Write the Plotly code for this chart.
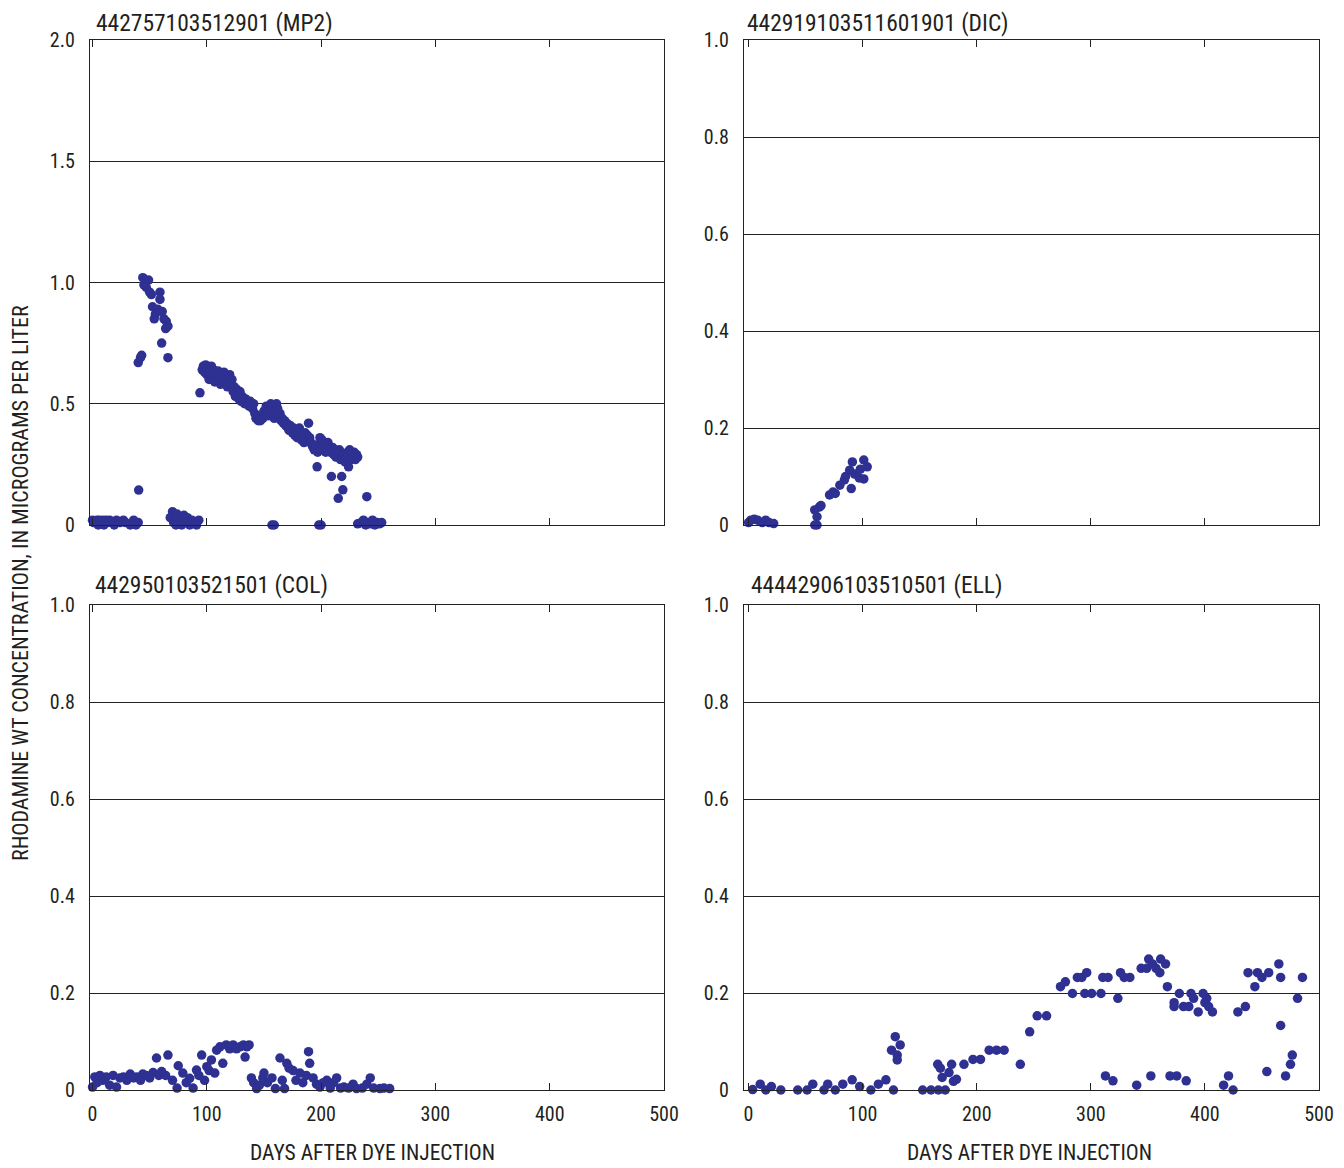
import plotly.graph_objects as go

# ---------------- DATA ----------------
titles = ["442757103512901 (MP2)", "442919103511601901 (DIC)",
          "442950103521501 (COL)", "44442906103510501 (ELL)"]

mp2_days = [0, 1, 3, 4, 5, 6, 8, 9, 10, 12, 13, 15, 17, 19, 21, 24, 27, 29, 33, 36, 38, 40,
            40.4, 40, 42, 43,
            44, 49, 45, 47, 50, 59, 51.5, 59, 52.5, 57, 61, 55, 54, 62.5, 64.5, 66, 64, 60.5, 66,
            68, 70, 71, 73, 74, 76, 78, 80, 81, 83, 85, 87, 89, 91, 93,
            94, 96, 97, 98, 99, 100, 101, 102, 103, 104, 105, 106, 107, 108, 109, 110, 111, 112,
            113, 114, 115, 116, 117, 118, 119, 120, 121, 122, 123, 124, 125, 126, 127, 128, 129,
            130, 131, 133, 134, 136, 137, 138, 140, 141, 142, 143, 144, 145, 146, 147, 148, 149,
            150, 151, 152, 153, 154, 155, 156, 157, 158, 159, 160, 161, 162, 163, 164, 165, 166,
            167, 168, 169, 170, 171, 172, 173, 175, 176, 177, 178, 179, 180, 181, 182, 183, 184,
            185, 186, 187, 188, 189, 190, 191, 192, 193, 194, 195, 196.5, 197, 198, 199, 200, 201,
            202, 203, 204, 205, 206, 207, 208, 209, 210, 211, 212, 213, 214, 215, 216, 217, 218,
            219, 220, 221, 222, 223, 224, 225, 226, 227, 228, 229, 230, 231, 232,
            157, 159, 198, 200,
            232, 235, 237, 239, 240, 241, 243, 245, 247, 249, 251, 253]
mp2_vals = [0.02, 0.01, 0.01, 0.02, 0.0, 0.02, 0.01, 0.02, 0.0, 0.02, 0.01, 0.02, 0.01, 0.0, 0.02, 0.01, 0.02, 0.01, 0.0, 0.02, 0.0, 0.01,
            0.144, 0.67, 0.69, 0.70,
            1.02, 1.01, 0.99, 0.98, 0.96, 0.96, 0.95, 0.93, 0.90, 0.89, 0.88, 0.87, 0.85, 0.85, 0.84, 0.82, 0.81, 0.75, 0.69,
            0.03, 0.055, 0.01, 0.0, 0.045, 0.02, 0.0, 0.04, 0.01, 0.03, 0.0, 0.02, 0.01, 0.0, 0.02,
            0.545, 0.64, 0.655, 0.63, 0.66, 0.62, 0.645, 0.60, 0.63, 0.655, 0.61, 0.64, 0.59, 0.62, 0.60, 0.635, 0.61, 0.58,
            0.625, 0.60, 0.63, 0.59, 0.615, 0.57, 0.60, 0.62, 0.58, 0.60, 0.55, 0.57, 0.53, 0.56, 0.54, 0.52, 0.55,
            0.51, 0.53, 0.50, 0.52, 0.50, 0.49, 0.51, 0.48, 0.50, 0.46, 0.44, 0.45, 0.43, 0.44, 0.43, 0.45, 0.44,
            0.47, 0.46, 0.49, 0.47, 0.45, 0.48, 0.50, 0.46, 0.49, 0.44, 0.47, 0.50, 0.48, 0.45, 0.46, 0.43, 0.44,
            0.42, 0.43, 0.41, 0.42, 0.40, 0.39, 0.41, 0.38, 0.40, 0.37, 0.39, 0.36, 0.38, 0.40, 0.37, 0.35, 0.36,
            0.34, 0.38, 0.35, 0.37, 0.42, 0.36, 0.34, 0.33, 0.32, 0.31, 0.33, 0.24, 0.30, 0.32, 0.36, 0.34, 0.35,
            0.31, 0.33, 0.30, 0.32, 0.34, 0.31, 0.30, 0.20, 0.32, 0.29, 0.31, 0.28, 0.30, 0.11, 0.31, 0.27, 0.20,
            0.145, 0.29, 0.26, 0.28, 0.30, 0.24, 0.31, 0.27, 0.29, 0.28, 0.30, 0.27, 0.29, 0.28,
            0.0, 0.0, 0.0, 0.0,
            0.005, 0.01, 0.02, 0.0, 0.117, 0.01, 0.005, 0.02, 0.0, 0.01, 0.005, 0.01]

dic_days = [0, 2, 5, 8, 12, 15, 18, 22,
            58, 60, 58, 62, 63.5, 60, 71, 74, 76, 80, 84, 85, 88.6, 91, 90, 93, 97, 101, 101, 104, 98]
dic_vals = [0.005, 0.01, 0.012, 0.01, 0.005, 0.01, 0.005, 0.003,
            0.0, 0.0, 0.031, 0.037, 0.04, 0.017, 0.062, 0.068, 0.065, 0.082, 0.093, 0.10, 0.113, 0.13, 0.075, 0.105, 0.097, 0.134, 0.095, 0.12, 0.115]

col_days = [0, 2, 4, 6.5, 9, 12, 15, 18, 21, 24, 27, 30, 33, 36, 38.6, 42, 44, 47, 50, 53, 56, 58, 60.5, 64, 66,
            70, 74, 75, 79, 82, 85, 88, 91, 93, 95.5, 98, 100, 102, 104, 107, 108.6, 111.5, 114, 117, 120, 123,
            126, 129, 132, 133.5, 135, 137, 139, 141, 143.6, 146, 149, 150, 153, 157, 160, 164, 166, 168, 170,
            172, 175.5, 178, 181.5, 184, 187, 189, 190, 193, 196, 199, 202, 205, 208, 211, 213.6, 217, 220,
            224, 228, 231, 236, 240, 243, 246, 251.5, 255, 260]
col_vals = [0.006, 0.027, 0.015, 0.03, 0.02, 0.027, 0.01, 0.03, 0.006, 0.025, 0.027, 0.02, 0.033, 0.025, 0.027,
            0.02, 0.033, 0.03, 0.025, 0.036, 0.066, 0.03, 0.038, 0.03, 0.072,
            0.02, 0.004, 0.05, 0.035, 0.015, 0.024, 0.004, 0.041, 0.03, 0.072, 0.02, 0.048, 0.04, 0.062, 0.035,
            0.082, 0.089, 0.055, 0.093, 0.085, 0.093, 0.085, 0.089, 0.093, 0.068, 0.089, 0.093, 0.025, 0.015,
            0.003, 0.01, 0.025, 0.035, 0.015, 0.025, 0.003, 0.066, 0.02, 0.003, 0.055, 0.045, 0.04, 0.02, 0.035,
            0.015, 0.03, 0.079, 0.055, 0.025, 0.012, 0.006, 0.015, 0.02, 0.004, 0.015, 0.025, 0.004, 0.006,
            0.004, 0.012, 0.003, 0.004, 0.012, 0.025, 0.004, 0.003, 0.004, 0.003]

ell_days = [3.6, 10.2, 15.1, 20, 28.3, 43.1, 51.3, 56.3, 66.1, 69.4, 76, 82.6, 90.8, 97.4, 107.2, 113.8, 120.4,
            127, 128.6, 125.3, 130.3, 132.9, 130.3, 152.6, 159.9, 166.4, 165.8, 168.1, 169.7, 172.4, 175.7,
            178, 179.6, 182.2, 188.8, 196.7, 203.3, 210.9, 217.4, 224, 238.2, 246.4, 253, 261.2, 273.4,
            277.7, 283.9, 288.2, 292.1, 296.4, 294.7, 300.7, 308.9, 310.5, 315.1, 312.8, 319.4, 323.7,
            326, 329.3, 334.2, 340.2, 344.1, 349, 350.7, 354, 357.2, 360.5, 361.2, 365.5, 352.6, 367.1,
            369.4, 375.3, 373, 373, 377.6, 381.2, 385.9, 383.6, 387.8, 390.1, 394.1, 398.4, 401.6, 400,
            403.3, 406.6, 416.4, 420.7, 424.7, 428.9, 435.5, 437.8, 443.8, 446.1, 450, 455.9, 454.3,
            464.8, 466.4, 466.4, 470.7, 475, 476.6, 481.2, 485.5]
ell_vals = [0.001, 0.012, 0.0, 0.007, 0.0, 0.0, 0.0, 0.012, 0.0, 0.012, 0.0, 0.012, 0.021, 0.007, 0.0, 0.012,
            0.021, 0.0, 0.11, 0.082, 0.072, 0.093, 0.062, 0.0, 0.0, 0.0, 0.053, 0.045, 0.026, 0.0, 0.036,
            0.053, 0.018, 0.022, 0.053, 0.063, 0.063, 0.082, 0.082, 0.082, 0.053, 0.12, 0.153, 0.153, 0.213,
            0.223, 0.199, 0.232, 0.232, 0.242, 0.199, 0.199, 0.199, 0.232, 0.232, 0.029, 0.019, 0.189,
            0.242, 0.232, 0.232, 0.01, 0.251, 0.251, 0.27, 0.26, 0.251, 0.242, 0.27, 0.26, 0.029, 0.213,
            0.029, 0.029, 0.18, 0.172, 0.199, 0.172, 0.172, 0.019, 0.199, 0.189, 0.161, 0.199, 0.189, 0.18,
            0.172, 0.161, 0.01, 0.029, 0.0, 0.161, 0.172, 0.242, 0.213, 0.242, 0.232, 0.242, 0.038,
            0.26, 0.232, 0.133, 0.029, 0.053, 0.072, 0.189, 0.232]

yticks_big = [0, 0.5, 1.0, 1.5, 2.0]
yticks_big_text = ["0", "0.5", "1.0", "1.5", "2.0"]
yticks_small = [0, 0.2, 0.4, 0.6, 0.8, 1.0]
yticks_small_text = ["0", "0.2", "0.4", "0.6", "0.8", "1.0"]
xticks = [0, 100, 200, 300, 400, 500]
xticks_text = ["0", "100", "200", "300", "400", "500"]

# ---------------- FIGURE ----------------
# The page body has an 8 px default margin, so the figure is shifted by OFF.
OFF = 8
W, H = 1344 - OFF, 1168 - OFF
FONT = "Liberation Sans Narrow, Roboto Condensed, Arial Narrow, Roboto, sans-serif"
DOT = "#2e3192"
INK = "#231f20"

def px_x(a, b):
    return [(a - OFF) / W, (b - OFF) / W]

def px_y(top, bottom):
    return [1 - (bottom - OFF) / H, 1 - (top - OFF) / H]

def pt_x(a):
    return (a - OFF) / W

def pt_y(a):
    return 1 - (a - OFF) / H

panels = [
    dict(x=mp2_days, y=mp2_vals, xd=px_x(90, 664), yd=px_y(40, 525), yr=[0, 2], yt=yticks_big, ytt=yticks_big_text, xlab=False, xr=[-2.2, 500]),
    dict(x=dic_days, y=dic_vals, xd=px_x(744, 1319), yd=px_y(40, 525), yr=[0, 1], yt=yticks_small, ytt=yticks_small_text, xlab=False, xr=[-4, 500]),
    dict(x=col_days, y=col_vals, xd=px_x(90, 664), yd=px_y(605, 1090), yr=[0, 1], yt=yticks_small, ytt=yticks_small_text, xlab=True, xr=[-2.2, 500]),
    dict(x=ell_days, y=ell_vals, xd=px_x(744, 1319), yd=px_y(605, 1090), yr=[0, 1], yt=yticks_small, ytt=yticks_small_text, xlab=True, xr=[-4, 500]),
]

fig = go.Figure()
layout = {}
for i, p in enumerate(panels, start=1):
    xa = "x" if i == 1 else f"x{i}"
    ya = "y" if i == 1 else f"y{i}"
    fig.add_trace(go.Scatter(x=p["x"], y=p["y"], mode="markers", xaxis=xa, yaxis=ya,
                             marker=dict(color=DOT, size=9.5, line=dict(width=0)),
                             cliponaxis=False, showlegend=False))
    xkey = "xaxis" if i == 1 else f"xaxis{i}"
    ykey = "yaxis" if i == 1 else f"yaxis{i}"
    layout[xkey] = dict(domain=p["xd"], anchor=ya, range=p["xr"], tickvals=xticks, ticktext=xticks_text,
                        showticklabels=p["xlab"], ticks="inside", ticklen=7, tickcolor="#222",
                        showgrid=False, zeroline=False, showline=True, linecolor="#222", linewidth=1.2,
                        mirror="ticks", automargin=False, ticklabelstandoff=6,
                        tickfont=dict(family=FONT, size=20, color=INK))
    layout[ykey] = dict(domain=p["yd"], anchor=xa, range=p["yr"], tickvals=p["yt"], ticktext=p["ytt"],
                        ticks="", showgrid=True, gridcolor="#222", gridwidth=1, zeroline=False,
                        showline=True, linecolor="#222", linewidth=1.2, mirror=True,
                        automargin=False, ticklabelstandoff=10,
                        tickfont=dict(family=FONT, size=20, color=INK))

annotations = []
# top titles: anchored by their top edge at the figure top so they are not clipped
top_titles = [(95, 1.0), (746, 1.0)]
for t, (ax_, yy) in zip(titles[:2], top_titles):
    annotations.append(dict(text=t, x=pt_x(ax_), y=yy, xref="paper", yref="paper",
                            xanchor="left", yanchor="top", showarrow=False, borderpad=0,
                            font=dict(family=FONT, size=23.5, color=INK)))
for t, ax_ in zip(titles[2:], (93, 749)):
    annotations.append(dict(text=t, x=pt_x(ax_), y=pt_y(585), xref="paper", yref="paper",
                            xanchor="left", yanchor="middle", showarrow=False,
                            font=dict(family=FONT, size=23.5, color=INK)))
for cx in (373, 1029):
    annotations.append(dict(text="DAYS AFTER DYE INJECTION", x=pt_x(cx), y=pt_y(1152), xref="paper", yref="paper",
                            xanchor="center", yanchor="middle", showarrow=False,
                            font=dict(family=FONT, size=21.5, color=INK)))
annotations.append(dict(text="RHODAMINE WT CONCENTRATION, IN MICROGRAMS PER LITER", x=pt_x(20), y=pt_y(583),
                        xref="paper", yref="paper", xanchor="center", yanchor="middle", textangle=-90,
                        showarrow=False, font=dict(family=FONT, size=22, color=INK)))

fig.update_layout(width=W, height=H, margin=dict(l=0, r=0, t=0, b=0),
                  paper_bgcolor="white", plot_bgcolor="white",
                  annotations=annotations, **layout)
fig.write_html("out.html")
